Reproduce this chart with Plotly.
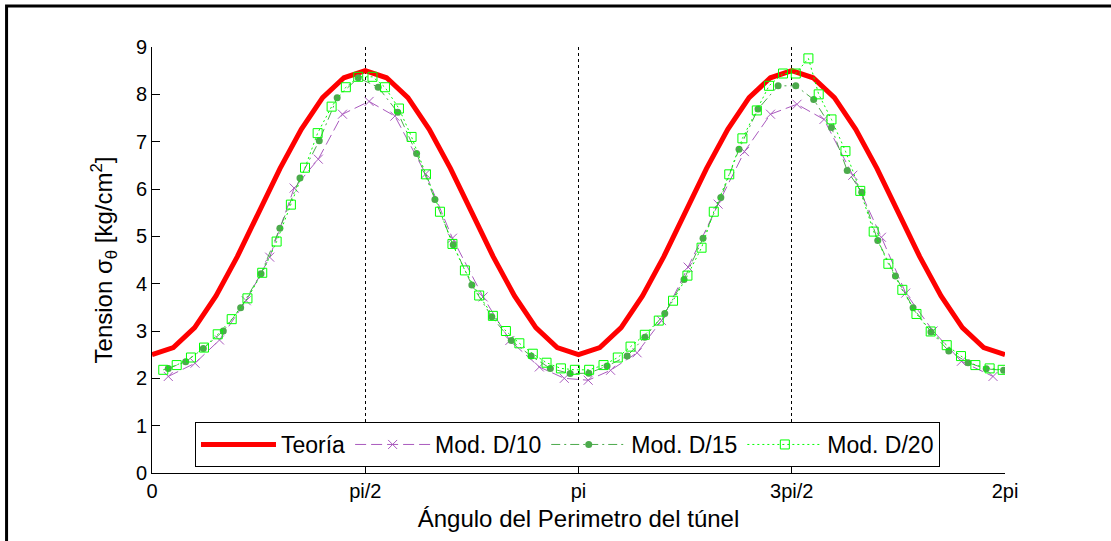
import numpy as np
import plotly.graph_objects as go

# Theoretical hoop stress around the tunnel perimeter (41 nodes, step pi/20)
theta_teoria = np.linspace(0, 2 * np.pi, 41)
sigma_teoria = [2.50, 2.65, 3.07, 3.74, 4.57, 5.50, 6.43, 7.26, 7.93, 8.35,
                8.50, 8.35, 7.93, 7.26, 6.43, 5.50, 4.57, 3.74, 3.07, 2.65,
                2.50, 2.65, 3.07, 3.74, 4.57, 5.50, 6.43, 7.26, 7.93, 8.35,
                8.50, 8.35, 7.93, 7.26, 6.43, 5.50, 4.57, 3.74, 3.07, 2.65,
                2.50]

# Numerical model, mesh size D/10
theta_d10 = [0.120, 0.317, 0.497, 0.694, 0.867, 1.047, 1.225, 1.403, 1.599, 1.789,
             2.016, 2.213, 2.439, 2.636, 2.853, 3.037, 3.213, 3.378, 3.573, 3.753,
             3.949, 4.170, 4.364, 4.556, 4.751, 4.950, 5.162, 5.373, 5.552, 5.753,
             5.962, 6.195]
sigma_d10 = [2.04, 2.32, 2.81, 3.64, 4.56, 6.02, 6.63, 7.58, 7.85, 7.54,
             6.32, 4.96, 3.72, 2.80, 2.24, 2.00, 1.96, 2.17, 2.54, 3.22,
             4.35, 5.68, 6.79, 7.58, 7.79, 7.47, 6.29, 4.98, 3.80, 3.00,
             2.36, 2.04]

# Numerical model, mesh size D/15
theta_d15 = [0.120, 0.248, 0.378, 0.525, 0.653, 0.803, 0.942, 1.090, 1.232, 1.364,
             1.519, 1.666, 1.810, 1.949, 2.084, 2.219, 2.356, 2.503, 2.646, 2.793,
             2.934, 3.080, 3.218, 3.352, 3.500, 3.630, 3.777, 3.919, 4.059, 4.190,
             4.324, 4.464, 4.612, 4.742, 4.874, 5.005, 5.121, 5.228, 5.346, 5.476,
             5.606, 5.738, 5.869, 6.011, 6.145, 6.273]
sigma_d15 = [2.21, 2.35, 2.63, 3.00, 3.49, 4.21, 5.17, 6.23, 7.02, 7.93,
             8.35, 8.15, 7.62, 6.75, 5.78, 4.82, 3.97, 3.30, 2.80, 2.47,
             2.21, 2.10, 2.11, 2.26, 2.47, 2.87, 3.37, 4.09, 4.96, 5.82,
             6.84, 7.69, 8.18, 8.18, 7.89, 7.30, 6.39, 5.93, 4.91, 4.16,
             3.49, 2.98, 2.58, 2.33, 2.20, 2.17]

# Numerical model, mesh size D/20
theta_d20 = [0.083, 0.182, 0.287, 0.383, 0.484, 0.587, 0.703, 0.812, 0.918, 1.023,
             1.127, 1.220, 1.323, 1.428, 1.519, 1.624, 1.716, 1.819, 1.912, 2.018,
             2.121, 2.213, 2.305, 2.410, 2.511, 2.607, 2.706, 2.805, 2.906, 3.012,
             3.115, 3.220, 3.326, 3.431, 3.525, 3.630, 3.733, 3.838, 3.944, 4.048,
             4.138, 4.252, 4.349, 4.455, 4.545, 4.648, 4.742, 4.835, 4.911, 5.005,
             5.108, 5.217, 5.316, 5.424, 5.527, 5.631, 5.736, 5.854, 5.959, 6.065,
             6.170, 6.266]
sigma_d20 = [2.18, 2.28, 2.44, 2.65, 2.93, 3.25, 3.69, 4.23, 4.89, 5.67,
             6.45, 7.18, 7.74, 8.15, 8.37, 8.37, 8.15, 7.70, 7.10, 6.31,
             5.52, 4.84, 4.28, 3.75, 3.32, 3.00, 2.74, 2.52, 2.33, 2.21,
             2.18, 2.18, 2.28, 2.44, 2.67, 2.92, 3.22, 3.64, 4.17, 4.76,
             5.52, 6.31, 7.07, 7.66, 8.18, 8.44, 8.44, 8.76, 8.00, 7.47,
             6.80, 5.96, 5.10, 4.42, 3.87, 3.36, 2.99, 2.70, 2.47, 2.28,
             2.21, 2.18]

x_tickvals = [0, np.pi / 2, np.pi, 3 * np.pi / 2, 2 * np.pi]
x_ticktext = ["0", "pi/2", "pi", "3pi/2", "2pi"]
y_tickvals = [0, 1, 2, 3, 4, 5, 6, 7, 8, 9]

FONT = "Liberation Sans, Arial, sans-serif"
PURPLE = "rgb(170,90,190)"
DGREEN = "rgb(76,170,76)"
LGREEN = "rgb(0,255,0)"

fig = go.Figure()

fig.add_trace(go.Scatter(
    x=theta_teoria, y=sigma_teoria, mode="lines", name="Teoría",
    line=dict(color="rgb(255,0,0)", width=5),
))
fig.add_trace(go.Scatter(
    x=theta_d10, y=sigma_d10, mode="lines+markers", name="Mod. D/10",
    line=dict(color=PURPLE, width=1, dash="11px,5px"),
    marker=dict(symbol="x-thin", size=9, color=PURPLE,
                line=dict(color=PURPLE, width=1)),
))
fig.add_trace(go.Scatter(
    x=theta_d15, y=sigma_d15, mode="lines+markers", name="Mod. D/15",
    line=dict(color=DGREEN, width=1, dash="9px,4px,2px,4px"),
    marker=dict(symbol="circle", size=7, color=DGREEN,
                line=dict(width=0)),
))
fig.add_trace(go.Scatter(
    x=theta_d20, y=sigma_d20, mode="lines+markers", name="Mod. D/20",
    line=dict(color=LGREEN, width=1, dash="2px,3px"),
    marker=dict(symbol="square-open", size=9, color=LGREEN,
                line=dict(color=LGREEN, width=1)),
))

fig.update_layout(
    width=1111, height=541,
    margin=dict(l=152, r=106, t=47, b=68, pad=0),
    paper_bgcolor="white", plot_bgcolor="white",
    font=dict(family=FONT, size=20, color="black"),
    showlegend=True,
    legend=dict(
        orientation="h", x=0.0504, y=0.1197, xanchor="left", yanchor="top",
        bgcolor="white", bordercolor="black", borderwidth=1,
        font=dict(family=FONT, size=23, color="black"),
        itemwidth=75, tracegroupgap=0,
    ),
    xaxis=dict(
        range=[0, 2 * np.pi], tickmode="array",
        tickvals=x_tickvals, ticktext=x_ticktext,
        ticks="inside", ticklen=8, tickcolor="black", tickwidth=1,
        showline=True, linecolor="black", linewidth=1, mirror=False,
        showgrid=True, gridcolor="black", gridwidth=1, griddash="dot",
        zeroline=False,
        tickfont=dict(family=FONT, size=20, color="black"),
        title=dict(text="Ángulo del Perimetro del túnel",
                   font=dict(family=FONT, size=24, color="black"),
                   standoff=9),
    ),
    yaxis=dict(
        range=[0, 9], tickmode="array", tickvals=y_tickvals,
        ticks="inside", ticklen=8, tickcolor="black", tickwidth=1,
        showline=True, linecolor="black", linewidth=1, mirror=False,
        showgrid=False, zeroline=False,
        tickfont=dict(family=FONT, size=20, color="black"),
        title=dict(text="Tension σ<sub>θ</sub> [kg/cm<sup>2</sup>]",
                   font=dict(family=FONT, size=24, color="black"),
                   standoff=16),
    ),
    shapes=[
        # outer figure frame (top and left edges visible)
        dict(type="rect", xref="paper", yref="paper",
             x0=-0.1705, x1=1.3, y0=-0.4, y1=1.0962,
             line=dict(color="black", width=3), layer="above"),
    ],
)

fig.write_html("out.html")
